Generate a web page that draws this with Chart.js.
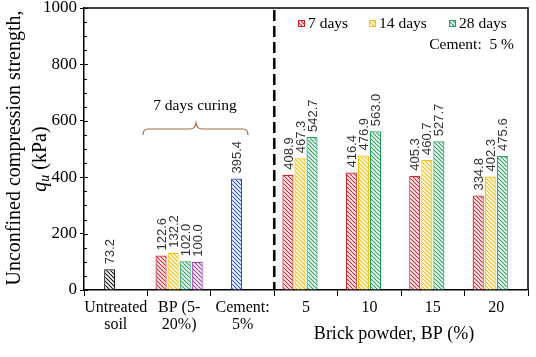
<!DOCTYPE html>
<html>
<head>
<meta charset="utf-8">
<script src="https://cdn.jsdelivr.net/npm/chart.js@4/dist/chart.umd.min.js"></script>
<style>
  html, body { margin: 0; padding: 0; background: #fff; }
  #wrap { width: 536px; height: 357px; position: relative; }
</style>
</head>
<body>
<div id="wrap"><canvas id="c" width="536" height="357"></canvas></div>
<script>
// ---- data ----
const categories = [["Untreated", "soil"], ["BP (5-", "20%)"], ["Cement:", "5%"], "5", "10", "15", "20"];
const slot1Values = [null, 122.6, null, 408.9, 416.4, 405.3, 334.8];   // 7 days
const slot2Values = [73.2, 132.2, 395.4, 467.3, 476.9, 460.7, 402.3];  // 14 days (+ untreated, cement)
const slot3Values = [null, 102.0, null, 542.7, 563.0, 527.7, 475.6];   // 28 days
const slot4Values = [null, 100.0, null, null, null, null, null];
const seriesNames = ["7 days", "14 days", "28 days", ""];
const yTicks = [0, 200, 400, 600, 800, 1000];

// ---- colours ----
const RED = '#D42028', YEL = '#F5C000', GRN = '#23A05E', PUR = '#A040A8', BLU = '#2A4FD8', BLK = '#111111';

function hatch(color) {
  const c = document.createElement('canvas');
  c.width = 4; c.height = 4;
  const g = c.getContext('2d');
  g.fillStyle = '#fff'; g.fillRect(0, 0, 4, 4);
  g.strokeStyle = color; g.lineWidth = 1.1;
  g.beginPath();
  g.moveTo(-1, -1); g.lineTo(5, 5);
  g.moveTo(-1, 3); g.lineTo(1, 5);
  g.moveTo(3, -1); g.lineTo(5, 1);
  g.stroke();
  return document.getElementById('c').getContext('2d').createPattern(c, 'repeat');
}
const P = { r: hatch(RED), y: hatch(YEL), g: hatch(GRN), p: hatch(PUR), b: hatch(BLU), k: hatch(BLK) };

const slot2Fill = [P.k, P.y, P.b, P.y, P.y, P.y, P.y];
const slot2Border = [BLK, YEL, BLU, YEL, YEL, YEL, YEL];

const SERIF = "'Liberation Serif', 'Times New Roman', serif";
const SANS = "'Liberation Sans', Arial, sans-serif";

// ---- plugins ----
const decor = {
  id: 'decor',
  afterDatasetsDraw(chart) {
    const ctx = chart.ctx;
    const a = chart.chartArea;
    const x = chart.scales.x, y = chart.scales.y;
    ctx.save();
    // box top & right
    ctx.strokeStyle = '#000'; ctx.lineWidth = 1.5;
    ctx.beginPath();
    ctx.moveTo(a.left, a.top); ctx.lineTo(a.right, a.top); ctx.lineTo(a.right, a.bottom);
    ctx.stroke();
    // y axis: inner major + minor ticks
    ctx.lineWidth = 1;
    ctx.beginPath();
    for (let v = 0; v <= 1000; v += 50) {
      const py = Math.round(y.getPixelForValue(v)) + 0.5;
      const len = (v % 200 === 0) ? 4 : 3;
      ctx.moveTo(a.left, py); ctx.lineTo(a.left + len, py);
    }
    ctx.stroke();
    // dashed separator between Cement and 5
    const sx = (x.getPixelForValue(2) + x.getPixelForValue(3)) / 2;
    ctx.setLineDash([11, 5]);
    ctx.lineWidth = 2.5;
    ctx.beginPath(); ctx.moveTo(sx, a.top + 2); ctx.lineTo(sx, a.bottom); ctx.stroke();
    ctx.setLineDash([]);

    // value labels
    ctx.fillStyle = '#333';
    ctx.font = "13px " + SANS;
    ctx.textAlign = 'left'; ctx.textBaseline = 'middle';
    chart.data.datasets.forEach((ds, di) => {
      const meta = chart.getDatasetMeta(di);
      meta.data.forEach((bar, i) => {
        const v = ds.data[i];
        if (v === null || v === undefined) return;
        ctx.save();
        ctx.translate(bar.x + 1, bar.y - 5);
        ctx.rotate(-Math.PI / 2);
        ctx.fillText(v.toFixed(1), 0, 0);
        ctx.restore();
      });
    });

    // legend
    ctx.font = "15.5px " + SERIF;
    ctx.fillStyle = '#000';
    ctx.textBaseline = 'middle';
    const leg = [[298, RED, P.r, seriesNames[0]], [369, YEL, P.y, seriesNames[1]], [449, GRN, P.g, seriesNames[2]]];
    leg.forEach(([lx, col, pat, name]) => {
      ctx.fillStyle = pat; ctx.fillRect(lx, 20, 7, 7);
      ctx.strokeStyle = col; ctx.lineWidth = 1; ctx.strokeRect(lx + 0.5, 20.5, 6, 6);
      ctx.fillStyle = '#000';
      ctx.textAlign = 'left';
      ctx.fillText(name, lx + 10, 24);
    });
    ctx.textAlign = 'right';
    ctx.fillText("Cement:  5 %", 514, 45);

    // brace + annotation
    ctx.strokeStyle = '#9C6B3C'; ctx.lineWidth = 1.2;
    ctx.beginPath();
    ctx.moveTo(143, 135);
    ctx.quadraticCurveTo(143, 129, 148, 129);
    ctx.lineTo(190, 129);
    ctx.quadraticCurveTo(195, 129, 196, 123);
    ctx.quadraticCurveTo(197, 129, 202, 129);
    ctx.lineTo(243, 129);
    ctx.quadraticCurveTo(248, 129, 248, 135);
    ctx.stroke();
    ctx.fillStyle = '#000';
    ctx.textAlign = 'center';
    ctx.font = "15.5px " + SERIF;
    ctx.fillText("7 days curing", 195, 106);

    // x axis title
    ctx.font = "18px " + SERIF;
    ctx.fillText("Brick powder, BP (%)", 394, 334);

    // y axis title
    ctx.save();
    ctx.translate(15, 148);
    ctx.rotate(-Math.PI / 2);
    ctx.font = "20px " + SERIF;
    ctx.textAlign = 'center';
    ctx.fillText("Unconfined compression strength,", 0, 0);
    ctx.restore();

    ctx.save();
    ctx.translate(41, 159);
    ctx.rotate(-Math.PI / 2);
    ctx.textAlign = 'left';
    ctx.font = "italic 20px " + SERIF;
    const wq = ctx.measureText("q").width;
    ctx.font = "italic 14px " + SERIF;
    const wu = ctx.measureText("u").width;
    ctx.font = "20px " + SERIF;
    const wr = ctx.measureText(" (kPa)").width;
    let sx0 = -(wq + wu + wr) / 2;
    ctx.font = "italic 20px " + SERIF;
    ctx.fillText("q", sx0, 0);
    ctx.font = "italic 14px " + SERIF;
    ctx.fillText("u", sx0 + wq, 4);
    ctx.font = "20px " + SERIF;
    ctx.fillText(" (kPa)", sx0 + wq + wu, 0);
    ctx.restore();

    ctx.restore();
  }
};

new Chart(document.getElementById('c'), {
  type: 'bar',
  data: {
    labels: categories,
    datasets: [
      { label: seriesNames[0], data: slot1Values, backgroundColor: P.r, borderColor: RED, borderWidth: 1.2 },
      { label: seriesNames[1], data: slot2Values, backgroundColor: slot2Fill, borderColor: slot2Border, borderWidth: 1.2 },
      { label: seriesNames[2], data: slot3Values, backgroundColor: P.g, borderColor: GRN, borderWidth: 1.2 },
      { label: seriesNames[3], data: slot4Values, backgroundColor: P.p, borderColor: PUR, borderWidth: 1.2 }
    ]
  },
  options: {
    responsive: false,
    animation: false,
    events: [],
    layout: { padding: { left: 0, right: 8, top: 8, bottom: 0 } },
    plugins: { legend: { display: false }, tooltip: { enabled: false } },
    datasets: { bar: { barPercentage: 0.92, categoryPercentage: 0.76, skipNull: false } },
    scales: {
      x: {
        offset: true,
        grid: { display: true, drawOnChartArea: false, drawTicks: true, tickLength: 6, offset: true, color: '#000', lineWidth: 1 },
        border: { display: true, color: '#000', width: 1.5 },
        ticks: { color: '#000', font: { family: SERIF, size: 16, lineHeight: 1.08 }, padding: 3, maxRotation: 0, autoSkip: false },
        afterFit(s) { s.height = 67; s.paddingLeft = 0; s.paddingRight = 0; }
      },
      y: {
        min: 0, max: 1000,
        afterBuildTicks(s) { s.ticks = yTicks.map(v => ({ value: v })); },
        grid: { display: true, drawOnChartArea: false, drawTicks: true, tickLength: 4, color: '#000', lineWidth: 1 },
        border: { display: true, color: '#000', width: 1.5 },
        ticks: { color: '#000', font: { family: SERIF, size: 17 }, padding: 3, callback: (v) => String(v) },
        afterFit(s) { s.width = 84; s.paddingTop = 0; s.paddingBottom = 0; }
      }
    }
  },
  plugins: [decor]
});
</script>
</body>
</html>
